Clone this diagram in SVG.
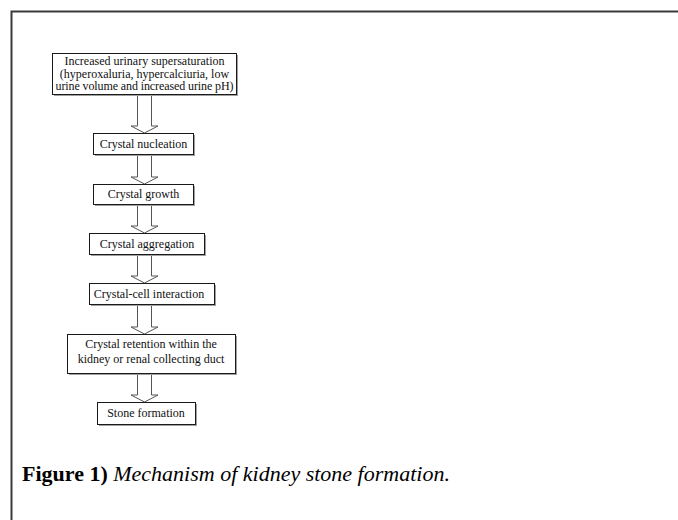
<svg xmlns="http://www.w3.org/2000/svg" width="678" height="520" viewBox="0 0 678 520">
<defs>
<style>
.box{fill:#fff;stroke:#1a1a1a;stroke-width:1}
.sh{fill:#a0a0a0}
.t{font-family:"Liberation Serif","Times New Roman",serif;font-size:12px;fill:#111;text-anchor:middle}
.arr{fill:#fff;stroke:#555;stroke-width:1;stroke-linejoin:miter}
.frame{stroke:#3a3a3a;stroke-width:2;fill:none}
.cap{font-family:"Liberation Serif","Times New Roman",serif;font-size:22px;fill:#000}
</style>
</defs>
<rect width="678" height="520" fill="#fff"/>
<path class="frame" d="M11.5,520 V11.5 H678"/>
<g id="connectors">
<polygon class="arr" points="137.5,95 137.5,126 131,126 144.5,133 158,126 151.5,126 151.5,95"/>
<polygon class="arr" points="137.5,155 137.5,177 131,177 144.5,184 158,177 151.5,177 151.5,155"/>
<polygon class="arr" points="137.5,205 137.5,226 131,226 144.5,233 158,226 151.5,226 151.5,205"/>
<polygon class="arr" points="137.5,255 137.5,276 131,276 144.5,283 158,276 151.5,276 151.5,255"/>
<polygon class="arr" points="137.5,305 137.5,327 131,327 144.5,334 158,327 151.5,327 151.5,305"/>
<polygon class="arr" points="137.5,374 137.5,395 131,395 144.5,402 158,395 151.5,395 151.5,374"/>
</g>
<g id="n1">
<rect class="sh" x="54" y="55" width="184" height="41"/>
<rect class="box" x="52.5" y="53.5" width="184" height="41"/>
<text class="t" x="144.5" y="65">Increased urinary supersaturation</text>
<text class="t" x="144.5" y="77.5">(hyperoxaluria, hypercalciuria, low</text>
<text class="t" x="144.5" y="90" textLength="178" lengthAdjust="spacing">urine volume and increased urine pH)</text>
</g>
<g id="n2">
<rect class="sh" x="95" y="135" width="100" height="21"/>
<rect class="box" x="93.5" y="133.5" width="100" height="21"/>
<text class="t" x="143.5" y="147.5">Crystal nucleation</text>
</g>
<g id="n3">
<rect class="sh" x="95" y="186" width="100" height="20"/>
<rect class="box" x="93.5" y="184.5" width="100" height="20"/>
<text class="t" x="143.5" y="198">Crystal growth</text>
</g>
<g id="n4">
<rect class="sh" x="91" y="235" width="115" height="21"/>
<rect class="box" x="89.5" y="233.5" width="115" height="21"/>
<text class="t" x="147" y="247.5">Crystal aggregation</text>
</g>
<g id="n5">
<rect class="sh" x="91" y="285" width="125" height="21"/>
<rect class="box" x="89.5" y="283.5" width="125" height="21"/>
<text class="t" x="149" y="297.5">Crystal-cell interaction</text>
</g>
<g id="n6">
<rect class="sh" x="69" y="336" width="168" height="39"/>
<rect class="box" x="67.5" y="334.5" width="168" height="39"/>
<text class="t" x="151" y="347.5">Crystal retention within the</text>
<text class="t" x="151" y="363">kidney or renal collecting duct</text>
</g>
<g id="n7">
<rect class="sh" x="99" y="404" width="98" height="22"/>
<rect class="box" x="97.5" y="402.5" width="98" height="22"/>
<text class="t" x="146" y="417">Stone formation</text>
</g>
<text class="cap" x="22" y="481"><tspan font-weight="bold">Figure 1)</tspan> <tspan font-style="italic">Mechanism of kidney stone formation.</tspan></text>
</svg>
